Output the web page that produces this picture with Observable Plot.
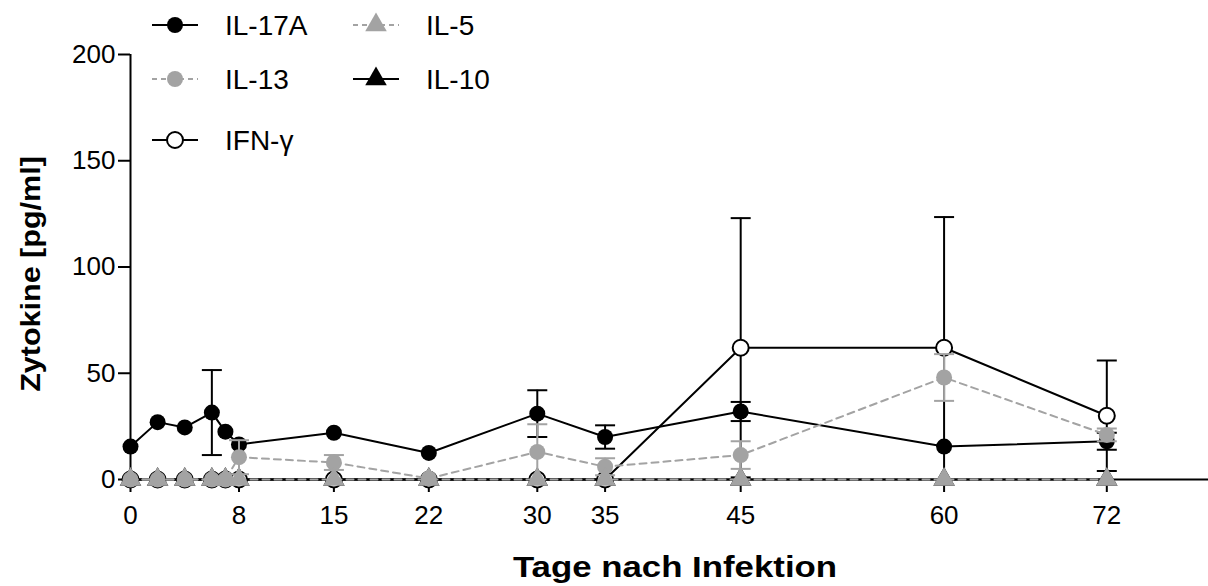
<!DOCTYPE html>
<html>
<head>
<meta charset="utf-8">
<script src="https://cdn.jsdelivr.net/npm/d3@7"></script>
<script src="https://cdn.jsdelivr.net/npm/@observablehq/plot@0.6"></script>
<style>
  html, body { margin: 0; padding: 0; background: #fff; }
  #wrap { position: relative; width: 1208px; height: 586px; font-family: "Liberation Sans", Arial, sans-serif; overflow: hidden; }
  #wrap svg.plot { position: absolute; left: 0; top: 0; }
  .xtitle { position: absolute; left: 675px; top: 552px; line-height: 30px; transform: translateX(-50%) scaleX(1.16); font-weight: bold; font-size: 30px; white-space: nowrap; color: #000; }
  .ytitle { position: absolute; left: 31px; top: 274px; line-height: 28px; transform: translate(-50%, -50%) rotate(-90deg) scaleX(1.09); font-weight: bold; font-size: 28px; white-space: nowrap; color: #000; }
  #legend { position: absolute; left: 0; top: 0; }
</style>
</head>
<body>
<div id="wrap"></div>
<script>
// ---- data ----
const days = [0, 2, 4, 6, 7, 8, 15, 22, 30, 35, 45, 60, 72];
const il17a     = [15.5, 27, 24.5, 31.5, 22.5, 16.5, 22, 12.5, 31, 20, 32, 15.5, 18];
const il17aSem  = [0, 0, 0, 20, 0, 0, 0, 0, 11, 5.5, 4.5, 0, 4];
const il13      = [0, 0, 0, 0, 0, 10.5, 8, 0.5, 13, 6, 11.5, 48, 21];
const il13Sem   = [0, 0, 0, 0, 0, 8, 3.5, 0, 13, 4, 6.5, 11, 3];
const ifng      = [0, 0, 0, 0, 0, 0, 0, 0, 0, 0, 62, 62, 30];
const ifngSem   = [0, 0, 0, 0, 0, 0, 0, 0, 0, 0, 61, 61.5, 26];
const il5       = [0, 0, 0, 0, 0, 0, 0, 0, 0, 0, 0, 0, 0];
const il5Sem    = [0, 0, 0, 0, 0, 0, 0, 0, 0, 0, 0, 0, 0];
const il10      = [0, 0, 0, 0, 0, 0, 0, 0, 0, 0, 0, 0, 0];
const il10Sem   = [0, 0, 0, 0, 0, 0, 0, 0, 0, 0, 0, 0, 0];
const yTicks = [0, 50, 100, 150, 200];
const xTicks = [0, 8, 15, 22, 30, 35, 45, 60, 72];
const xTitle = "Tage nach Infektion";
const yTitle = "Zytokine [pg/ml]";

const GRAY = "#a3a3a3";
// draw order: bottom -> top
const series = [
  {name: "IL-10",  v: il10,  sem: il10Sem,  stroke: "#000", dash: null,  symbol: "triangle", fill: "#000"},
  {name: "IFN-γ",  v: ifng,  sem: ifngSem,  stroke: "#000", dash: null,  symbol: "circle",   fill: "#fff"},
  {name: "IL-17A", v: il17a, sem: il17aSem, stroke: "#000", dash: null,  symbol: "circle",   fill: "#000"},
  {name: "IL-13",  v: il13,  sem: il13Sem,  stroke: GRAY,   dash: "7,5", symbol: "circle",   fill: GRAY},
  {name: "IL-5",   v: il5,   sem: il5Sem,   stroke: GRAY,   dash: "7,5", symbol: "triangle", fill: GRAY}
];

const capSymbol = {
  draw(ctx, size) {
    const r = Math.sqrt(size / Math.PI);
    ctx.moveTo(-r, 0); ctx.lineTo(r, 0);
  }
};

const marks = [
  Plot.ruleY([0], {stroke: "#000", strokeWidth: 2}),
  Plot.ruleX([0], {y1: 0, y2: 200, stroke: "#000", strokeWidth: 2}),
  Plot.axisY({ticks: yTicks, tickSize: 12, tickPadding: 3, fontSize: 26, label: null, strokeWidth: 2}),
  Plot.axisX({ticks: xTicks, tickSize: 13, tickPadding: 13, fontSize: 26, label: null, strokeWidth: 2})
];

for (const s of series) {
  const rows = days.map((d, i) => ({day: d, v: s.v[i], sem: s.sem[i]}));
  const err = rows.filter(r => r.sem > 0).map(r => ({day: r.day, lo: Math.max(0, r.v - r.sem), hi: r.v + r.sem}));
  const caps = err.flatMap(e => [{day: e.day, y: e.hi}, {day: e.day, y: e.lo}]).filter(c => c.y > 0.5);
  marks.push(
    Plot.ruleX(err, {x: "day", y1: "lo", y2: "hi", stroke: s.stroke, strokeWidth: 2}),
    Plot.dot(caps, {x: "day", y: "y", symbol: capSymbol, r: 10, stroke: s.stroke, strokeWidth: 2}),
    Plot.line(rows, {x: "day", y: "v", stroke: s.stroke, strokeWidth: 2, strokeDasharray: s.dash}),
    Plot.dot(rows, {x: "day", y: "v", symbol: s.symbol, r: 8, fill: s.fill,
      stroke: s.fill === "#fff" ? "#000" : "none", strokeWidth: 2})
  );
}

const chart = Plot.plot({
  width: 1208,
  height: 586,
  marginLeft: 130,
  marginRight: 0,
  marginTop: 54,
  marginBottom: 107,
  x: {domain: [0, 79.5]},
  y: {domain: [0, 200]},
  style: {fontFamily: "Liberation Sans, Arial, sans-serif", color: "#000", background: "#fff", overflow: "visible"},
  marks
});
chart.classList.add("plot");
const wrap = document.getElementById("wrap");
wrap.appendChild(chart);

const xt = document.createElement("div"); xt.className = "xtitle"; xt.textContent = xTitle; wrap.appendChild(xt);
const yt = document.createElement("div"); yt.className = "ytitle"; yt.textContent = yTitle; wrap.appendChild(yt);

// ---- legend ----
const legendLayout = [
  {name: "IL-17A", x: 152, y: 25},
  {name: "IL-5",   x: 353, y: 25},
  {name: "IL-13",  x: 152, y: 79},
  {name: "IL-10",  x: 353, y: 79},
  {name: "IFN-γ",  x: 152, y: 140}
];
const ns = "http://www.w3.org/2000/svg";
const lg = document.createElementNS(ns, "svg");
lg.setAttribute("id", "legend");
lg.setAttribute("width", 520);
lg.setAttribute("height", 170);
for (const item of legendLayout) {
  const s = series.find(d => d.name === item.name);
  const line = document.createElementNS(ns, "line");
  line.setAttribute("x1", item.x); line.setAttribute("x2", item.x + 46);
  line.setAttribute("y1", item.y); line.setAttribute("y2", item.y);
  line.setAttribute("stroke", s.stroke); line.setAttribute("stroke-width", 2);
  if (s.dash) line.setAttribute("stroke-dasharray", "5,4");
  lg.appendChild(line);
  const p = document.createElementNS(ns, "path");
  const sym = s.symbol === "triangle" ? d3.symbolTriangle : d3.symbolCircle;
  p.setAttribute("d", d3.symbol(sym, 64 * Math.PI)());
  p.setAttribute("transform", `translate(${item.x + 23},${item.y})`);
  p.setAttribute("fill", s.fill);
  if (s.fill === "#fff") { p.setAttribute("stroke", "#000"); p.setAttribute("stroke-width", 2); }
  lg.appendChild(p);
  const t = document.createElementNS(ns, "text");
  t.setAttribute("x", item.x + 73); t.setAttribute("y", item.y);
  t.setAttribute("dy", "0.36em");
  t.setAttribute("font-size", 28);
  t.setAttribute("font-family", "Liberation Sans, Arial, sans-serif");
  t.textContent = s.name;
  lg.appendChild(t);
}
wrap.appendChild(lg);
</script>
</body>
</html>
